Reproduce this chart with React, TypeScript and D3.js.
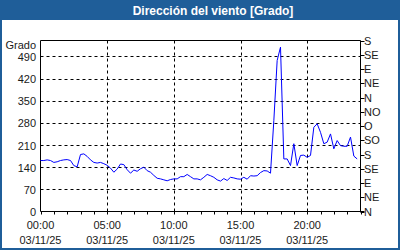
import React from "react";
import * as d3 from "d3";

const TITLE = "Dirección del viento [Grado]";
const Y_UNIT = "Grado";
const SAMPLE_STEP_MIN = 15;
const windDir: number[] = [
  161, 161, 163, 161, 155, 157, 161, 163, 164, 161,
  145, 141, 180, 182, 174, 163, 155, 153, 155, 151,
  146, 137, 124, 134, 150, 148, 132, 121, 131, 127,
  135, 140, 129, 124, 114, 105, 103, 100, 97, 101,
  103, 103, 110, 110, 117, 110, 103, 103, 100, 108,
  117, 113, 108, 100, 96, 104, 98, 108, 106, 103,
  102, 108, 102, 113, 112, 113, 123, 129, 128, 121,
  287, 477, 519, 166, 166, 145, 214, 145, 177, 178,
  171, 177, 266, 277, 250, 214, 219, 245, 198, 224,
  208, 206, 206, 235, 175, 166,
];
const leftTicks = [0, 70, 140, 210, 280, 350, 420, 490];
const rightTickValues = [0, 45, 90, 135, 180, 225, 270, 315, 360, 405, 450, 495, 540];
const rightTickLabels = ["N", "NE", "E", "SE", "S", "SO", "O", "NO", "N", "NE", "E", "SE", "S"];
const xMajorHours = [0, 5, 10, 15, 20];
const xMajorLabels = ["00:00", "05:00", "10:00", "15:00", "20:00"];
const dateLabel = "03/11/25";

export default function App() {
  const W = 400, H = 250;
  const x = d3.scaleLinear().domain([0, 24]).range([40.5, 360.5]);
  const y = d3.scaleLinear().domain([0, 540]).range([211.5, 40.5]);
  const line = d3
    .line<number>()
    .x((_, i) => x((i * SAMPLE_STEP_MIN) / 60))
    .y((d) => y(d));
  const hours = d3.range(0, 25);
  const font = "'Liberation Sans', Arial, sans-serif";
  const textColor = "#1a1a1a";
  return (
    <svg width={W} height={H} style={{ position: "absolute", left: 0, top: 0 }} fontFamily={font}>
      <rect x={0} y={0} width={W} height={H} fill="#1f5e99" />
      <rect x={2} y={20} width={W - 4} height={H - 22} fill="#ffffff" />
      <text x={213} y={15} textAnchor="middle" fill="#ffffff" fontWeight="bold" fontSize={12}>
        {TITLE}
      </text>
      {leftTicks.filter((v) => v > 0).map((v) => (
        <line key={"gy" + v} x1={x(0)} x2={x(24)} y1={Math.round(y(v)) + 0.5} y2={Math.round(y(v)) + 0.5}
          stroke="#000" strokeDasharray="3,3" />
      ))}
      {xMajorHours.filter((h) => h > 0).map((h) => (
        <line key={"gx" + h} x1={Math.round(x(h)) + 0.5} x2={Math.round(x(h)) + 0.5} y1={y(540)} y2={y(0)}
          stroke="#000" strokeDasharray="3,3" />
      ))}
      <line x1={x(0)} x2={x(0)} y1={y(540)} y2={y(0)} stroke="#000" />
      <line x1={x(24)} x2={x(24)} y1={y(540)} y2={y(0)} stroke="#000" />
      <line x1={x(0)} x2={x(24)} y1={y(540)} y2={y(540)} stroke="#000" />
      <line x1={x(0)} x2={x(24) + 4} y1={y(0)} y2={y(0)} stroke="#000" />
      {hours.map((h) => (
        <line key={"xt" + h} x1={Math.round(x(h)) + 0.5} x2={Math.round(x(h)) + 0.5} y1={y(0)} y2={y(0) + 3} stroke="#000" />
      ))}
      {xMajorHours.map((h, i) => (
        <g key={"xl" + h}>
          <text x={x(h)} y={229} textAnchor="middle" fontSize={11} fill={textColor}>{xMajorLabels[i]}</text>
          <text x={x(h)} y={243.5} textAnchor="middle" fontSize={11} fill={textColor}>{dateLabel}</text>
        </g>
      ))}
      {leftTicks.map((v) => (
        <text key={"yl" + v} x={36} y={y(v) + 4.5} textAnchor="end" fontSize={11} fill={textColor}>{v}</text>
      ))}
      <text x={36} y={49} textAnchor="end" fontSize={11} fill={textColor}>{Y_UNIT}</text>
      {rightTickValues.map((v, i) => (
        <g key={"rt" + i}>
          <line x1={x(24)} x2={x(24) + 4} y1={Math.round(y(v)) + 0.5} y2={Math.round(y(v)) + 0.5} stroke="#000" />
          <text x={364} y={y(v) + 4} fontSize={11} fill={textColor}>{rightTickLabels[i]}</text>
        </g>
      ))}
      <path d={line(windDir) || ""} fill="none" stroke="#0000ff" strokeWidth={1} />
    </svg>
  );
}
